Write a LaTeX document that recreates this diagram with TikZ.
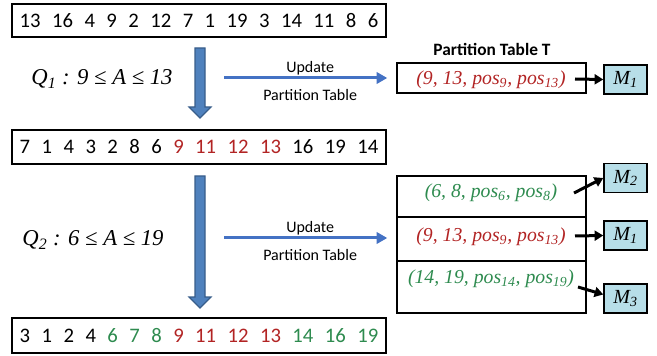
\documentclass[tikz,border=0pt]{standalone}
\usepackage[no-math]{fontspec}
\setmainfont{Carlito}
\newfontfamily\mathlike{Liberation Serif}
\usetikzlibrary{arrows.meta,positioning}
\definecolor{numred}{HTML}{B22424}
\definecolor{numgreen}{HTML}{2E8B4F}
\definecolor{blkfill}{HTML}{4F81BD}
\definecolor{blkline}{HTML}{385D8A}
\definecolor{updblue}{HTML}{4472C4}
\definecolor{mfill}{HTML}{B7DEE8}
\newcommand{\tup}[2]{(#1, #2, pos\textsubscript{#1}, pos\textsubscript{#2})}
\newcommand{\nums}[1]{\spaceskip=8.6pt plus 1pt\relax #1}
\tikzset{
  arr/.style={draw, line width=1.5pt, minimum width=280.5pt, inner sep=0pt,
    font=\fontsize{15.5}{18}\selectfont},
  qlab/.style={font=\mathlike\itshape\fontsize{17}{20}\selectfont},
  tbl/.style={draw, line width=1.1pt, minimum width=141.75pt, inner sep=0pt},
  ent/.style={font=\mathlike\itshape\fontsize{14.8}{17}\selectfont, inner sep=0pt},
  mbox/.style={draw, line width=1.1pt, fill=mfill, minimum width=32.25pt,
    minimum height=21.75pt, inner sep=0pt, font=\mathlike\itshape\fontsize{15}{17}\selectfont},
  blk/.style={draw=blkline, line width=0.8pt, fill=blkfill},
  upd/.style={updblue, line width=2.25pt, -{Triangle[length=8pt,width=8.5pt]}},
  marr/.style={line width=2.25pt, -{Triangle[length=6.5pt,width=7.5pt]}},
  small/.style={font=\fontsize{12}{14}\selectfont}
}
\begin{document}
\begin{tikzpicture}[x=0.75pt,y=-0.75pt]
  \useasboundingbox (0,0) rectangle (657,356);
  % the three arrays
  \node[arr, minimum height=24.75pt] (a1) at (199,20.5) {\nums{13 16 4 9 2 12 7 1 19 3 14 11 8 6}};
  \node[arr, minimum height=25.5pt] (a2) at (199,147) {\nums{7 1 4 3 2 8 6 \textcolor{numred}{9 11 12 13} 16 19 14}};
  \node[arr, minimum height=26.25pt] (a3) at (199,335.5) {\nums{3 1 2 4 \textcolor{numgreen}{6 7 8} \textcolor{numred}{9 11 12 13} \textcolor{numgreen}{14 16 19}}};

  % block arrows
  \draw[blk] (195,48) -- (205,48) -- (205,107) -- (211,107) -- (200,118) -- (189,107) -- (195,107) -- cycle;
  \draw[blk] (195,176) -- (205,176) -- (205,297) -- (211,297) -- (200,308) -- (189,297) -- (195,297) -- cycle;

  % queries
  \node[qlab] (q1) at (102,79) {Q\textsubscript{1} : 9 ≤ A ≤ 13};
  \node[qlab] (q2) at (93,240) {Q\textsubscript{2} : 6 ≤ A ≤ 19};

  % partition table after Q1
  \node[font=\bfseries\fontsize{13}{15}\selectfont] (title) at (492,49) {Partition Table T};
  \node[tbl, minimum height=22.5pt] (t1) at (491.5,78) {};
  \node[ent, numred] (e1) at (491,80) {\tup{9}{13}};
  \node[mbox] (m1a) at (625.5,79.5) {M\textsubscript{1}};

  % partition table after Q2
  \node[tbl, minimum height=102.75pt] (t2) at (491.5,244.5) {};
  \coordinate (c1) at (0,217);
  \coordinate (c2) at (0,261);
  \draw[line width=1.1pt] (t2.west |- c1) -- (t2.east |- c1);
  \draw[line width=1.1pt] (t2.west |- c2) -- (t2.east |- c2);
  \node[ent, numgreen] (e2) at (491,193) {\tup{6}{8}};
  \node[ent, numred] (e3) at (491,237) {\tup{9}{13}};
  \node[ent, numgreen] (e4) at (491,279) {\tup{14}{19}};
  \node[mbox] (m2) at (625.5,178) {M\textsubscript{2}};
  \node[mbox] (m1b) at (625.5,235.5) {M\textsubscript{1}};
  \node[mbox] (m3) at (625.5,298.5) {M\textsubscript{3}};

  % update arrows
  \coordinate (u1) at (224,78);
  \coordinate (u2) at (224,238);
  \draw[upd, shorten >=6.75pt] (u1) -- (u1 -| t1.west)
    node[small, black, midway, above=-2pt] (up1) {Update}
    node[small, black, midway, below=4pt] (pt1) {Partition Table};
  \draw[upd, shorten >=6.75pt] (u2) -- (u2 -| t2.west)
    node[small, black, midway, above=-2pt] (up2) {Update}
    node[small, black, midway, below=4pt] (pt2) {Partition Table};

  % pointers to the machines
  \coordinate (s1) at (575,79);
  \coordinate (s2) at (574,193);
  \coordinate (s3) at (575,236);
  \coordinate (s4) at (578,287);
  \draw[marr] (s1) -- (m1a.west);
  \draw[marr] (s2) -- (m2.west);
  \draw[marr] (s3) -- (m1b.west);
  \draw[marr] (s4) -- ([yshift=3pt]m3.west);
\end{tikzpicture}
\end{document}
